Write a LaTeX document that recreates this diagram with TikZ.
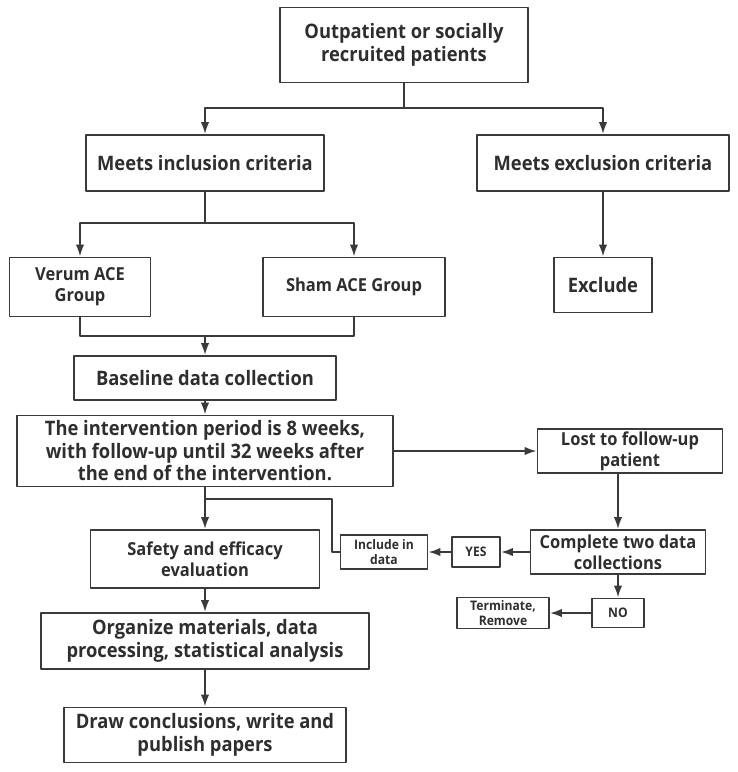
\documentclass[tikz,border=0pt]{standalone}
\usepackage{fontspec}
\setmainfont{Open Sans}[FakeStretch=0.92]
\usetikzlibrary{arrows.meta}
\definecolor{linegray}{HTML}{3A3A3A}
\definecolor{textgray}{HTML}{2E2E2E}
\begin{document}
\begin{tikzpicture}[x=0.02cm, y=-0.02cm, line join=round, color=linegray, line width=1.1pt,
	>={Latex[length=2.4mm, width=1.7mm]},
	box/.style={draw=linegray, line width=1.1pt, align=center, inner sep=1pt, text=textgray, font=\bfseries\fontsize{11.35}{12.8}\selectfont},
	midbox/.style={box, font=\bfseries\fontsize{10.2}{12}\selectfont},
	smallbox/.style={box, inner sep=0pt, font=\bfseries\fontsize{7.5}{8.4}\selectfont},
	sized/.style 2 args={minimum width=#1cm, minimum height=#2cm}]
	\useasboundingbox (0,0) rectangle (738,772);
	
	% Các hộp chính
	\node[box, sized={4.96}{1.50}] (start) at (404,45) {Outpatient or socially\\recruited patients};
	\node[box, sized={4.76}{1.12}] (incl) at (205,163) {Meets inclusion criteria};
	\node[box, sized={5.04}{1.12}] (excl) at (603,163) {Meets exclusion criteria};
	\node[midbox, sized={2.82}{1.18}] (verum) at (80,287) {Verum ACE\\Group};
	\node[midbox, sized={3.64}{1.18}] (sham) at (354,287) {Sham ACE Group};
	\node[box, sized={1.96}{1.10}] (exclude) at (603,285) {Exclude};
	\node[box, sized={5.24}{0.88}] (baseline) at (205,378) {Baseline data collection};
	\node[box, sized={7.54}{1.42}] (interv) at (205,451) {The intervention period is 8 weeks,\\with follow-up until 32 weeks after\\the end of the intervention.};
	\node[midbox, inner sep=0pt, sized={3.70}{0.88}] (lost) at (630,451) {Lost to follow-up\\patient};
	\node[midbox, inner sep=0pt, sized={3.50}{0.88}] (complete) at (618,552) {Complete two data\\collections};
	\node[midbox, sized={4.58}{1.16}] (safety) at (205,559) {Safety and efficacy\\evaluation};
	\node[box, sized={6.56}{1.12}] (organize) at (205,641) {Organize materials, data\\processing, statistical analysis};
	\node[box, sized={5.64}{1.10}] (draw) at (205,735) {Draw conclusions, write and\\publish papers};
	
	% Các hộp nhỏ
	\node[smallbox, sized={0.96}{0.60}] (yes) at (476,552) {YES};
	\node[smallbox, sized={1.74}{0.68}] (include) at (384,552) {Include in\\data};
	\node[smallbox, sized={1.04}{0.58}] (no) at (618,613) {NO};
	\node[smallbox, sized={1.84}{0.62}] (terminate) at (503,613) {Terminate,\\Remove};
	
	% Điểm rẽ nhánh
	\coordinate (s1) at (404,108);
	\coordinate (s2) at (205,223);
	\coordinate (m1) at (205,336);
	\coordinate (j1) at (205,499);
	\coordinate (k1) at (332,499);
	
	% Các mũi tên
	\draw (start) -- (s1);
	\draw[->] (s1) -| (incl);
	\draw[->] (s1) -| (excl);
	\draw (incl) -- (s2);
	\draw[->] (s2) -| (verum);
	\draw[->] (s2) -| (sham);
	\draw[->] (excl) -- (exclude);
	\draw (verum) |- (m1) -| (sham);
	\draw[->] (m1) -- (baseline);
	\draw[->] (baseline) -- (interv);
	\draw[->] (interv) -- (lost);
	\draw[->] (lost.south -| complete) -- (complete);
	\draw[->] (complete) -- (yes);
	\draw[->] (yes) -- (include);
	\draw[->] (complete) -- (no);
	\draw[->] (no) -- (terminate);
	\draw (include) -| (k1) -- (j1);
	\foreach \a/\b in {interv/safety, safety/organize, organize/draw} {
		\draw[->] (\a) -- (\b);
	}
\end{tikzpicture}
\end{document}
